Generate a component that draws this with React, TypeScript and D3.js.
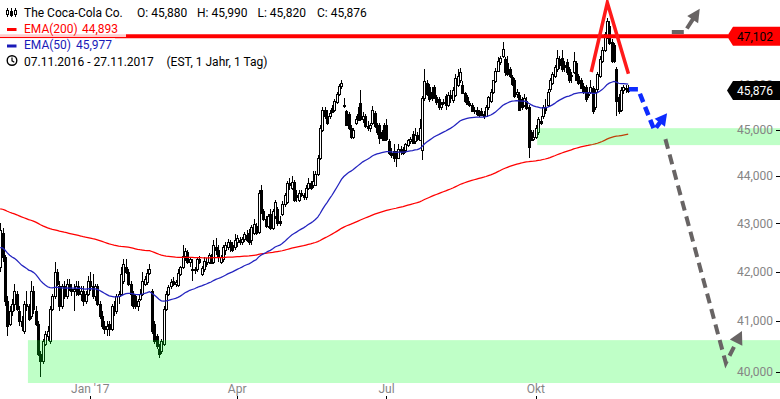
import React from "react";
import * as d3 from "d3";

type C = [number, number, number, number]; // open, high, low, close

// Daily candles, 07.11.2016 - 27.11.2017 (grouped by month)
const nov16: C[] = [
  [42.10, 43.00, 42.00, 42.85], [42.80, 42.90, 42.20, 42.30], [42.30, 42.35, 41.30, 41.40], [41.40, 41.50, 40.70, 40.90],
  [40.95, 41.30, 40.90, 41.20], [41.20, 41.45, 41.10, 41.35], [41.35, 41.75, 41.20, 41.60], [41.55, 41.60, 41.20, 41.25],
  [41.20, 41.30, 40.90, 41.00], [41.00, 41.10, 40.80, 40.90], [40.80, 41.40, 40.75, 41.35], [41.35, 41.60, 41.20, 41.30],
  [41.30, 41.35, 41.00, 41.05], [41.10, 41.80, 41.05, 41.60], [41.60, 41.70, 41.15, 41.25], [41.20, 41.30, 40.90, 40.95],
  [40.95, 41.00, 40.30, 40.35],
];
const dec16: C[] = [
  [40.35, 40.40, 39.90, 40.20], [40.20, 40.65, 40.15, 40.60], [40.55, 40.80, 40.50, 40.75], [40.70, 40.90, 40.60, 40.80],
  [40.60, 41.30, 40.55, 41.25], [41.25, 41.55, 41.20, 41.50], [41.50, 42.20, 41.45, 42.00], [42.00, 42.05, 41.70, 41.75],
  [41.70, 41.80, 41.20, 41.30], [41.30, 41.75, 41.25, 41.70], [41.70, 41.80, 41.45, 41.50], [41.50, 41.85, 41.45, 41.75],
  [41.75, 41.85, 41.60, 41.65], [41.65, 41.75, 41.50, 41.60], [41.60, 41.75, 41.20, 41.65], [41.65, 41.80, 41.50, 41.70],
  [41.70, 41.80, 41.50, 41.55], [41.55, 41.70, 41.40, 41.60], [41.60, 41.70, 41.30, 41.40], [41.40, 41.60, 41.35, 41.55],
  [41.55, 41.90, 41.50, 41.80],
];
const jan17: C[] = [
  [41.80, 42.00, 41.60, 41.70], [41.70, 41.95, 41.45, 41.50], [41.50, 41.75, 41.40, 41.70], [41.70, 41.75, 41.30, 41.35],
  [41.35, 41.40, 41.05, 41.10], [41.10, 41.20, 40.85, 40.90], [40.90, 41.00, 40.75, 40.85], [40.85, 41.00, 40.70, 40.90],
  [40.95, 41.00, 40.70, 40.85], [40.85, 41.35, 40.80, 41.30], [41.30, 41.40, 41.10, 41.20], [41.20, 41.55, 41.15, 41.50],
  [41.50, 41.60, 41.35, 41.55], [41.55, 42.10, 41.50, 41.95], [41.80, 42.25, 41.75, 42.15], [42.10, 42.25, 41.95, 42.00],
  [42.00, 42.05, 41.70, 41.75], [41.75, 41.80, 41.30, 41.55], [41.55, 41.60, 41.25, 41.30], [41.50, 41.55, 41.25, 41.30],
];
const feb17: C[] = [
  [41.30, 41.45, 41.20, 41.40], [41.45, 41.65, 41.40, 41.55], [41.55, 42.00, 41.50, 41.80], [41.75, 41.90, 41.70, 41.85],
  [41.78, 42.05, 41.72, 41.98], [41.98, 42.15, 41.92, 42.05], [41.60, 41.65, 40.75, 40.80], [40.95, 41.00, 40.55, 40.60],
  [40.70, 40.75, 40.45, 40.50], [40.45, 40.55, 40.27, 40.35], [40.40, 40.65, 40.35, 40.60], [40.55, 41.30, 40.50, 41.25],
  [41.25, 41.60, 41.20, 41.55], [41.55, 41.72, 41.50, 41.68], [41.70, 41.85, 41.65, 41.78], [41.80, 41.88, 41.70, 41.75],
  [41.75, 41.82, 41.68, 41.78], [41.72, 42.05, 41.68, 41.98], [41.95, 42.12, 41.90, 42.10],
];
const mar17: C[] = [
  [42.10, 42.55, 42.05, 42.32], [42.32, 42.48, 42.22, 42.42], [42.40, 42.45, 42.15, 42.20], [42.20, 42.30, 42.10, 42.25],
  [42.05, 42.26, 41.80, 42.03], [42.03, 42.10, 41.95, 42.05], [42.05, 42.30, 42.00, 42.25], [42.25, 42.32, 42.15, 42.20],
  [41.95, 42.12, 41.90, 42.08], [42.05, 42.30, 42.00, 42.22], [42.20, 42.28, 42.10, 42.15], [42.20, 42.38, 42.15, 42.35],
  [42.32, 42.36, 42.15, 42.18], [42.20, 42.65, 42.15, 42.55], [42.50, 42.70, 42.35, 42.45], [42.45, 42.55, 42.20, 42.30],
  [42.20, 42.35, 42.15, 42.30], [42.25, 42.55, 42.20, 42.50], [42.45, 42.60, 42.35, 42.55], [42.50, 42.68, 42.45, 42.62],
  [42.60, 42.65, 42.40, 42.50], [42.55, 42.60, 42.40, 42.45], [42.50, 42.78, 42.45, 42.65],
];
const apr17: C[] = [
  [42.62, 42.75, 42.50, 42.70], [42.65, 42.72, 42.55, 42.60], [42.60, 42.72, 42.55, 42.68], [42.68, 42.82, 42.60, 42.78],
  [42.75, 42.85, 42.60, 42.65], [42.80, 42.88, 42.55, 42.60], [42.65, 42.97, 42.55, 42.93], [42.80, 43.08, 42.75, 42.98],
  [42.95, 43.00, 42.75, 42.80], [42.82, 43.70, 42.78, 43.65], [43.70, 43.80, 43.20, 43.25], [43.25, 43.30, 43.05, 43.10],
  [43.10, 43.15, 42.90, 42.95], [42.95, 43.20, 42.90, 43.15], [43.20, 43.30, 42.85, 42.90], [42.90, 43.30, 42.85, 43.25],
  [43.15, 43.50, 43.10, 43.45], [43.30, 43.35, 42.95, 43.00], [43.05, 43.15, 42.95, 43.00],
];
const may17: C[] = [
  [43.20, 43.48, 43.15, 43.40], [43.40, 43.65, 43.35, 43.60], [43.45, 43.90, 43.40, 43.85], [43.85, 43.95, 43.70, 43.80],
  [43.75, 44.00, 43.70, 43.88], [43.88, 43.92, 43.45, 43.50], [43.60, 43.70, 43.45, 43.55], [43.50, 43.70, 43.45, 43.65],
  [43.65, 43.70, 43.55, 43.60], [43.60, 43.65, 43.50, 43.55], [43.55, 43.80, 43.50, 43.75], [43.75, 43.95, 43.70, 43.85],
  [43.85, 43.90, 43.70, 43.75], [43.80, 44.12, 43.75, 43.90], [43.82, 44.10, 43.78, 44.05], [44.05, 44.45, 44.00, 44.40],
  [44.40, 45.10, 44.35, 45.05], [45.00, 45.50, 44.95, 45.45], [45.45, 45.50, 45.25, 45.30], [45.30, 45.45, 45.10, 45.15],
  [45.30, 45.45, 45.25, 45.38], [45.48, 45.55, 45.38, 45.40],
];
const jun17: C[] = [
  [45.45, 45.68, 45.40, 45.65], [45.62, 45.85, 45.58, 45.80], [45.80, 46.02, 45.75, 45.98], [45.98, 46.10, 45.90, 46.05],
  [45.55, 45.70, 45.48, 45.52], [45.42, 45.45, 45.10, 45.12], [45.35, 45.40, 45.00, 45.05], [45.05, 45.10, 44.80, 44.85],
  [44.85, 45.05, 44.80, 45.00], [45.15, 45.30, 45.10, 45.25], [45.35, 45.50, 45.20, 45.22], [45.60, 45.88, 45.20, 45.25],
  [45.25, 45.40, 45.15, 45.30], [45.30, 45.35, 45.05, 45.08], [45.08, 45.20, 44.98, 45.05], [45.05, 45.15, 44.95, 45.10],
  [45.15, 45.52, 45.10, 45.43], [45.38, 45.42, 45.05, 45.08], [45.08, 45.15, 44.90, 44.95], [45.10, 45.15, 44.70, 44.83],
  [44.95, 45.00, 44.75, 44.82], [45.10, 45.15, 44.75, 44.78],
];
const jul17: C[] = [
  [45.10, 45.25, 44.75, 44.80], [44.75, 44.80, 44.45, 44.50], [44.50, 44.60, 44.38, 44.45], [44.55, 44.70, 44.30, 44.38],
  [44.46, 44.55, 44.20, 44.40], [44.40, 44.70, 44.38, 44.58], [44.58, 44.65, 44.45, 44.55], [44.55, 44.62, 44.45, 44.50],
  [44.56, 44.72, 44.50, 44.70], [44.68, 44.80, 44.62, 44.78], [44.75, 44.85, 44.70, 44.80], [44.92, 44.98, 44.70, 44.72],
  [44.75, 45.05, 44.70, 44.90], [44.90, 44.95, 44.75, 44.80], [44.78, 45.25, 44.75, 45.05], [44.56, 45.75, 44.35, 45.70],
  [45.70, 46.35, 45.65, 46.08], [46.05, 46.12, 45.75, 45.80], [45.95, 46.02, 45.62, 45.68], [45.85, 45.95, 45.65, 45.70],
];
const aug17: C[] = [
  [45.95, 46.00, 45.68, 45.72], [45.72, 45.78, 45.55, 45.62], [45.68, 45.72, 45.45, 45.50], [45.50, 45.62, 45.45, 45.58],
  [45.60, 45.68, 45.55, 45.62], [45.75, 45.80, 45.45, 45.55], [45.55, 45.85, 45.50, 45.78], [45.78, 45.88, 45.60, 45.70],
  [45.66, 45.95, 45.60, 45.88], [45.78, 46.25, 45.72, 46.15], [46.00, 46.35, 45.95, 46.20], [46.10, 46.38, 46.05, 46.30],
  [46.00, 46.08, 45.80, 45.82], [45.82, 45.85, 45.60, 45.65], [45.72, 45.78, 45.55, 45.58], [45.60, 45.65, 45.50, 45.55],
  [45.55, 45.60, 45.40, 45.42], [45.42, 45.50, 45.35, 45.45], [45.45, 45.50, 45.30, 45.35], [45.38, 45.45, 45.28, 45.32],
  [45.42, 45.48, 45.30, 45.32], [45.35, 45.42, 45.25, 45.30], [45.30, 45.55, 45.28, 45.50],
];
const sep17: C[] = [
  [45.50, 45.75, 45.45, 45.72], [45.65, 45.90, 45.60, 45.85], [45.85, 46.12, 45.80, 46.10], [46.08, 46.38, 46.05, 46.32],
  [46.32, 46.62, 46.28, 46.55], [46.52, 46.65, 46.45, 46.60], [46.65, 46.98, 46.60, 46.82], [46.58, 46.62, 46.20, 46.28],
  [46.50, 46.65, 46.20, 46.25], [46.35, 46.40, 46.15, 46.20], [46.18, 46.22, 45.98, 46.02], [46.10, 46.15, 45.70, 45.75],
  [45.80, 45.90, 45.70, 45.85], [45.78, 45.85, 45.42, 45.45], [45.68, 45.72, 45.45, 45.50], [45.55, 45.80, 45.50, 45.70],
  [45.65, 45.72, 45.45, 45.48], [45.50, 45.55, 44.40, 44.62], [44.95, 45.00, 44.75, 44.78], [44.80, 45.00, 44.75, 44.85],
];
const okt17: C[] = [
  [44.85, 45.10, 44.80, 45.05], [44.95, 45.28, 44.90, 45.25], [45.20, 45.30, 45.10, 45.15], [45.30, 45.55, 45.25, 45.50],
  [45.50, 45.68, 45.35, 45.45], [45.55, 45.90, 45.50, 45.85], [45.90, 46.15, 45.85, 46.10], [46.05, 46.30, 46.00, 46.25],
  [46.20, 46.45, 46.15, 46.40], [46.35, 46.80, 46.30, 46.60], [46.58, 46.65, 46.35, 46.45], [46.60, 46.80, 46.30, 46.35],
  [46.45, 46.55, 46.30, 46.40], [46.52, 46.58, 46.22, 46.28], [46.35, 46.40, 46.05, 46.10], [46.20, 46.30, 46.05, 46.22],
  [46.30, 46.75, 46.25, 46.55], [46.50, 46.55, 46.10, 46.12], [46.20, 46.25, 46.00, 46.05], [46.10, 46.15, 45.90, 45.92],
  [45.98, 46.05, 45.80, 45.85], [45.95, 46.00, 45.62, 45.68],
];
const nov17: C[] = [
  [45.80, 45.85, 45.70, 45.78], [45.85, 46.10, 45.80, 45.95], [45.92, 45.98, 45.35, 45.42], [45.50, 45.90, 45.45, 45.85],
  [45.90, 46.28, 45.85, 46.25], [46.20, 46.65, 46.15, 46.58], [46.55, 46.85, 46.50, 46.80], [46.80, 47.20, 46.75, 47.15],
  [47.10, 47.52, 47.05, 47.45], [47.35, 47.45, 46.90, 46.95], [46.98, 47.05, 46.50, 46.55], [46.90, 46.95, 46.50, 46.55],
  [46.35, 46.40, 45.30, 45.65], [45.72, 45.80, 45.35, 45.42], [45.45, 45.95, 45.40, 45.88], [45.88, 46.00, 45.80, 45.95],
  [45.92, 46.00, 45.82, 45.90], [45.880, 45.990, 45.820, 45.876],
];

const months = [nov16, dec16, jan17, feb17, mar17, apr17, may17, jun17, jul17, aug17, sep17, okt17, nov17];
const tickMonths = [jan17, apr17, jul17, okt17];
const tickLabels = ["Jan '17", "Apr", "Jul", "Okt"];
const yTickValues = [40, 41, 42, 43, 44, 45, 46];

// EMA values carried in from before the visible window
const ema200Start = 43.31;
const ema50Start = 42.48;

const resistance = 47.102;
const lastClose = 45.876;

// support zones: [start index, low, high]
const lowZone = [11.7, 39.78, 40.62];
const highZone = [226.6, 44.67, 45.04];

// hand-drawn annotations (index, price)
const redPeak: [number, number][] = [[249.4, 46.29], [256.2, 47.88], [265.1, 46.25]];
const blueArrow: [number, number][] = [[265.3, 45.9], [269.2, 45.9], [276.0, 45.0]];
const blueTip: [number, number] = [281.4, 45.37];
const grayDown: [number, number][] = [[280.7, 44.8], [306.2, 40.17]];
const grayDownTip: [number, number] = [313.0, 40.8];
const grayUp: [number, number][] = [[283.4, 47.2], [288.8, 47.2]];
const grayUpTip: [number, number] = [295.2, 47.74];

const de = d3.formatLocale({ decimal: ",", thousands: ".", grouping: [3], currency: ["", " €"] });
const fmt = de.format(".3f");

function ema(closes: number[], start: number, n: number) {
  const a = 2 / (n + 1);
  let e = start;
  return closes.map((c) => (e = e + a * (c - e)));
}

const W = 780, H = 399;
const FONT = "Roboto, 'Liberation Sans', Arial, sans-serif";

export default function App() {
  const candles = months.flat();
  const n = candles.length;
  const x = d3.scaleLinear().domain([0, n - 1]).range([0.2, 628.2]);
  const y = d3.scaleLog().domain([40, 45]).range([371.7, 130]);
  const closes = candles.map((c) => c[3]);
  const e200 = ema(closes, ema200Start, 200);
  const e50 = ema(closes, ema50Start, 50);
  const line = d3.line<number>().x((_, i) => x(i)).y((v) => y(v));
  const pl = d3.line<[number, number]>().x((d) => x(d[0])).y((d) => y(d[1]));

  const tickIdx: number[] = [];
  let acc = 0;
  months.forEach((m) => {
    if (tickMonths.includes(m)) tickIdx.push(acc);
    acc += m.length;
  });

  const arrowHead = (from: [number, number], tip: [number, number], len: number, wd: number) => {
    const fx = x(from[0]), fy = y(from[1]), tx = x(tip[0]), ty = y(tip[1]);
    const dx = tx - fx, dy = ty - fy, L = Math.hypot(dx, dy);
    const ux = dx / L, uy = dy / L;
    const bx = tx - ux * len, by = ty - uy * len;
    const px = -uy * wd / 2, py = ux * wd / 2;
    return {
      poly: `${tx},${ty} ${bx + px},${by + py} ${bx - px},${by - py}`,
      base: [bx + ux * 2, by + uy * 2],
    };
  };

  const blueH = arrowHead(blueArrow[2], blueTip, 12, 13);
  const grayDH = arrowHead(grayDown[1], grayDownTip, 13, 14);
  const grayUH = arrowHead(grayUp[1], grayUpTip, 13, 13);

  const labelBox = (v: number) => {
    const cy = y(v);
    return `M727,${cy} L733,${cy - 9.5} L780,${cy - 9.5} L780,${cy + 9.5} L733,${cy + 9.5} Z`;
  };

  return (
    <>
      <style>{`body{margin:0}`}</style>
      <svg width={W} height={H} style={{ display: "block", fontFamily: FONT }}>
        <rect width={W} height={H} fill="#fff" />
        {/* candles */}
        <g shapeRendering="crispEdges">
          {candles.map(([o, h, l, c], i) => {
            const cx = Math.round(x(i));
            const top = Math.round(y(Math.max(o, c)));
            const bot = Math.round(y(Math.min(o, c)));
            const up = c >= o;
            return (
              <g key={i}>
                <line x1={cx + 0.5} x2={cx + 0.5} y1={Math.round(y(h))} y2={Math.round(y(l))} stroke="#000" />
                <rect x={cx - 0.5} y={top + 0.5} width={2} height={Math.max(bot - top, 1)}
                  fill={up ? "#fff" : "#000"} stroke="#000" />
              </g>
            );
          })}
        </g>
        {/* EMAs */}
        <path d={line(e200) || ""} fill="none" stroke="#ff0000" strokeWidth={1.25} />
        <path d={line(e50) || ""} fill="none" stroke="#2323bf" strokeWidth={1.25} />
        {/* zones */}
        <rect x={x(lowZone[0])} y={y(lowZone[2])} width={W - x(lowZone[0])} height={y(lowZone[1]) - y(lowZone[2])}
          fill="#00ff20" fillOpacity={0.25} />
        <rect x={x(highZone[0])} y={y(highZone[2])} width={W - x(highZone[0])} height={y(highZone[1]) - y(highZone[2])}
          fill="#00ff20" fillOpacity={0.25} />
        {/* resistance line */}
        <line x1={0} x2={728} y1={y(resistance)} y2={y(resistance)} stroke="#ff0000" strokeWidth={4} />
        {/* red peak */}
        <path d={pl(redPeak) || ""} fill="none" stroke="#ff1a1a" strokeWidth={3.5} strokeLinejoin="miter" />
        {/* blue dashed arrow */}
        <path d={(pl(blueArrow) || "") + ` L${blueH.base[0]},${blueH.base[1]}`} fill="none" stroke="#0d2bff"
          strokeWidth={4.5} strokeDasharray="9,5" />
        <polygon points={blueH.poly} fill="#0d2bff" />
        {/* gray arrows */}
        <path d={(pl(grayDown) || "") + ` L${grayDH.base[0]},${grayDH.base[1]}`} fill="none" stroke="#686464"
          strokeWidth={4} strokeDasharray="10,6" />
        <polygon points={grayDH.poly} fill="#686464" />
        <path d={(pl(grayUp) || "") + ` L${grayUH.base[0]},${grayUH.base[1]}`} fill="none" stroke="#686464"
          strokeWidth={4} strokeDasharray="12,5" />
        <polygon points={grayUH.poly} fill="#686464" />
        {/* y axis */}
        {yTickValues.map((v) => (
          <g key={v}>
            <text x={773} y={y(v) + 4.3} textAnchor="end" fontSize={12} fill="#858585">
              {fmt(v)}
            </text>
            <line x1={776} x2={780} y1={Math.round(y(v)) + 0.5} y2={Math.round(y(v)) + 0.5} stroke="#000" />
          </g>
        ))}
        {/* x axis */}
        {tickIdx.map((t, k) => (
          <g key={k}>
            <text x={x(t)} y={392.5} textAnchor="middle" fontSize={12} fill="#858585">{tickLabels[k]}</text>
            <line x1={Math.round(x(t)) + 0.5} x2={Math.round(x(t)) + 0.5} y1={396} y2={399} stroke="#000" />
          </g>
        ))}
        {/* price labels */}
        <path d={labelBox(resistance)} fill="#ff0000" />
        <text x={737} y={y(resistance) + 4.3} fontSize={12} fill="#000">{fmt(resistance)}</text>
        <path d={labelBox(lastClose)} fill="#000" />
        <text x={737} y={y(lastClose) + 4.3} fontSize={12} fill="#fff">{fmt(lastClose)}</text>
        {/* legend */}
        <rect x={0} y={4} width={385} height={16.5} fill="#fff" fillOpacity={0.8} />
        <rect x={0} y={21} width={126} height={16} fill="#fff" fillOpacity={0.8} />
        <rect x={0} y={38} width={115} height={16} fill="#fff" fillOpacity={0.8} />
        <rect x={0} y={54} width={290} height={16} fill="#fff" fillOpacity={0.8} />
        <g stroke="#000" strokeWidth={1} shapeRendering="crispEdges">
          <line x1={7.5} x2={7.5} y1={8} y2={17} />
          <rect x={6.5} y={10.5} width={2} height={4} fill="#fff" />
          <line x1={11.5} x2={11.5} y1={8} y2={17} />
          <rect x={10.5} y={11.5} width={2} height={4} fill="#000" />
          <line x1={15.5} x2={15.5} y1={8} y2={17} />
          <rect x={14.5} y={10.5} width={2} height={4} fill="#fff" />
        </g>
        <text x={24} y={16.5} fontSize={12} fill="#000">The Coca-Cola Co.</text>
        <text x={137} y={16.5} fontSize={12} fill="#000">O: 45,880</text>
        <text x={197} y={16.5} fontSize={12} fill="#000">H: 45,990</text>
        <text x={257.5} y={16.5} fontSize={12} fill="#000">L: 45,820</text>
        <text x={317} y={16.5} fontSize={12} fill="#000">C: 45,876</text>
        <rect x={7} y={28} width={9.5} height={3} fill="#ff0000" />
        <text x={24} y={32.5} fontSize={12} fill="#ff0000">EMA(200)</text>
        <text x={82} y={32.5} fontSize={12} fill="#ff0000">44,893</text>
        <rect x={7} y={44.5} width={9.5} height={3} fill="#1a1ab8" />
        <text x={24} y={49} fontSize={12} fill="#1a1ab8">EMA(50)</text>
        <text x={76} y={49} fontSize={12} fill="#1a1ab8">45,977</text>
        <circle cx={12} cy={60.5} r={4.8} fill="none" stroke="#000" strokeWidth={1.4} />
        <path d="M12,57.5 L12,60.8 L14.3,62.2" fill="none" stroke="#000" strokeWidth={1.2} />
        <text x={24} y={65.5} fontSize={12} fill="#000">07.11.2016 - 27.11.2017</text>
        <text x={166.5} y={65.5} fontSize={12} fill="#000">(EST, 1 Jahr, 1 Tag)</text>
      </svg>
    </>
  );
}
